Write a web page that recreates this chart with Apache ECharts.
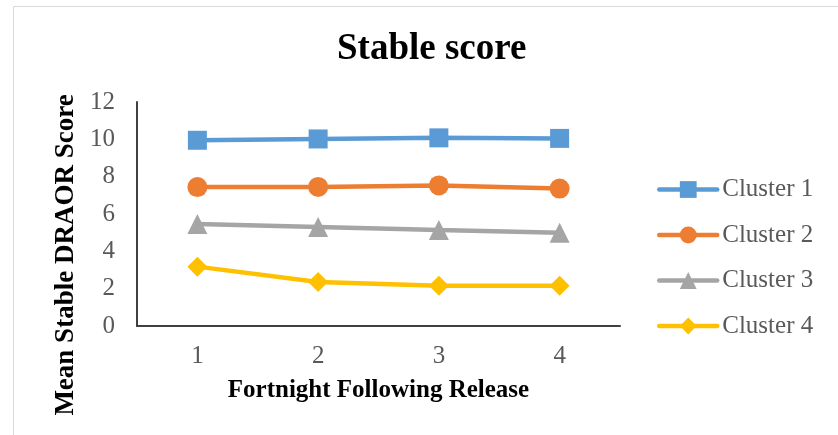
<!DOCTYPE html>
<html>
<head>
<meta charset="utf-8">
<script src="https://cdn.jsdelivr.net/npm/echarts@6/dist/echarts.min.js"></script>
<style>
  html, body { margin: 0; padding: 0; background: #fff; }
  #chart { width: 838px; height: 435px; }
</style>
</head>
<body>
<div id="chart"></div>
<script>
// Fortnights after release
const fortnights = ['1', '2', '3', '4'];

// Mean stable DRAOR score per cluster
const cluster1 = [9.95, 10.02, 10.08, 10.05];
const cluster2 = [7.44, 7.45, 7.53, 7.36];
const cluster3 = [5.46, 5.31, 5.14, 5.00];
const cluster4 = [3.18, 2.36, 2.16, 2.15];

const seriesNames = ['Cluster 1', 'Cluster 2', 'Cluster 3', 'Cluster 4'];
const yTicks = [0, 2, 4, 6, 8, 10, 12];

const serif = '"Liberation Serif", "DejaVu Serif", serif';
const palette = ['#5B9BD5', '#ED7D31', '#A5A5A5', '#FFC000'];
const symbols = ['rect', 'circle', 'triangle', 'diamond'];
const sizes = [19, 20, 20, 20];
const values = [cluster1, cluster2, cluster3, cluster4];

const chart = echarts.init(document.getElementById('chart'), null, { renderer: 'canvas' });

chart.setOption({
  animation: false,
  backgroundColor: '#ffffff',
  graphic: [{
    type: 'rect',
    shape: { x: 13.5, y: 6.5, width: 900, height: 500 },
    style: { fill: 'none', stroke: '#d9d9d9', lineWidth: 1 },
    silent: true,
    z: -10
  }],
  title: {
    text: 'Stable score',
    left: 332,
    top: 26,
    textStyle: { fontFamily: serif, fontWeight: 'bold', fontSize: 37, color: '#000' }
  },
  legend: {
    orient: 'vertical',
    left: 652,
    top: 172,
    itemWidth: 58,
    itemHeight: 21,
    itemGap: 20.5,
    data: seriesNames,
    lineStyle: { width: 4.5, cap: 'round' },
    textStyle: { fontFamily: serif, fontSize: 25, color: '#595959', lineHeight: 25 }
  },
  grid: { left: 137, right: 218, top: 102, bottom: 109, containLabel: false },
  xAxis: {
    type: 'category',
    data: fortnights,
    boundaryGap: true,
    name: 'Fortnight Following Release',
    nameLocation: 'middle',
    nameGap: 52,
    nameTextStyle: { fontFamily: serif, fontWeight: 'bold', fontSize: 25, color: '#000' },
    axisLine: { lineStyle: { color: '#404040', width: 2 } },
    axisTick: { show: false },
    axisLabel: { fontFamily: serif, fontSize: 25, color: '#595959', margin: 18 }
  },
  yAxis: {
    type: 'value',
    min: yTicks[0],
    max: yTicks[yTicks.length - 1],
    interval: 2,
    name: 'Mean Stable DRAOR Score',
    nameLocation: 'middle',
    nameGap: 53,
    nameTextStyle: { fontFamily: serif, fontWeight: 'bold', fontSize: 27, color: '#000', padding: [0, 82, 0, 0] },
    axisLine: { show: true, lineStyle: { color: '#404040', width: 2 } },
    axisTick: { show: false },
    splitLine: { show: false },
    axisLabel: { fontFamily: serif, fontSize: 25, color: '#595959', margin: 22 }
  },
  series: seriesNames.map((name, i) => ({
    name: name,
    type: 'line',
    data: values[i],
    symbol: symbols[i],
    symbolSize: sizes[i],
    showAllSymbol: true,
    lineStyle: { color: palette[i], width: 4.5 },
    itemStyle: { color: palette[i] }
  }))
});
</script>
</body>
</html>
